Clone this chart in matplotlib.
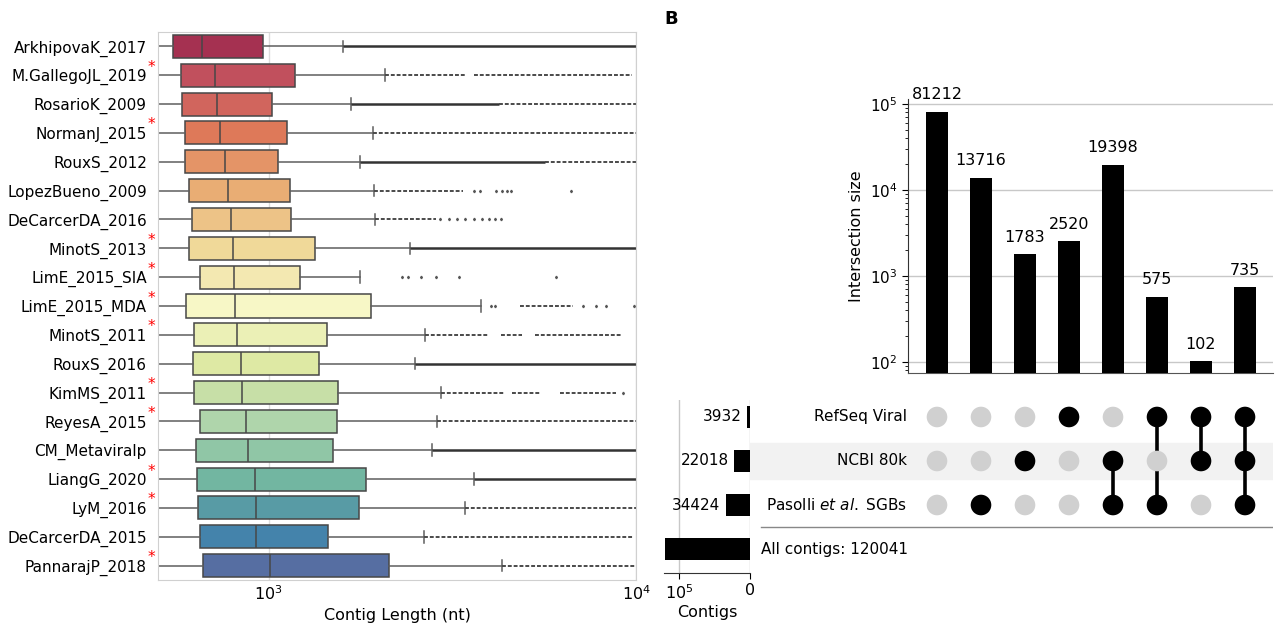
import matplotlib.pyplot as plt
import seaborn as sns
from matplotlib.ticker import NullLocator

W, H = 1281, 623

# ---- panel A: contig length distributions per study ----
studies = [
    "ArkhipovaK_2017", "M.GallegoJL_2019", "RosarioK_2009", "NormanJ_2015",
    "RouxS_2012", "LopezBueno_2009", "DeCarcerDA_2016", "MinotS_2013",
    "LimE_2015_SIA", "LimE_2015_MDA", "MinotS_2011", "RouxS_2016",
    "KimMS_2011", "ReyesA_2015", "CM_Metaviralp", "LiangG_2020",
    "LyM_2016", "DeCarcerDA_2015", "PannarajP_2018",
]
starred = [0, 1, 0, 1, 0, 0, 0, 1, 1, 1, 1, 0, 1, 1, 0, 1, 1, 0, 1]
q1 = [548, 576, 582, 590, 590, 605, 620, 607, 649, 596,
      625, 623, 625, 649, 633, 637, 643, 652, 661]
med = [659, 713, 723, 735, 758, 774, 791, 797, 806, 811,
       820, 838, 845, 867, 877, 919, 921, 921, 1005]
q3 = [966, 1178, 1019, 1123, 1063, 1141, 1147, 1334, 1219, 1897,
      1440, 1369, 1546, 1538, 1494, 1836, 1758, 1451, 2127]
whis_lo = [500] * 19
whis_hi = [1596, 2074, 1674, 1919, 1774, 1935, 1945, 2421, 1774, 3795,
           2656, 2500, 2938, 2877, 2779, 3629, 3423, 2642, 4325]
# runs of outliers: (start, end, "solid" = packed / "dash" = dense but gappy)
flier_runs = [
    [(1596, 10000, "solid")],
    [(2074, 3450, "dash"), (3620, 9750, "dash")],
    [(1674, 4225, "solid"), (4225, 10000, "dash")],
    [(1919, 10000, "dash")],
    [(1774, 5640, "solid"), (5640, 10000, "dash")],
    [(1935, 3390, "dash")],
    [(1945, 2850, "dash")],
    [(2421, 10000, "solid")],
    [],
    [(4840, 6730, "dash")],
    [(2656, 3970, "dash"), (4295, 4900, "dash"), (5300, 9120, "dash")],
    [(2500, 10000, "solid")],
    [(2938, 4410, "dash"), (4600, 5500, "dash"), (6200, 8800, "dash")],
    [(2877, 10000, "dash")],
    [(2779, 10000, "solid")],
    [(3629, 10000, "solid")],
    [(3423, 10000, "dash")],
    [(2642, 9800, "dash")],
    [(4325, 10000, "dash")],
]
flier_points = [
    [], [], [], [], [], [3615, 3760, 4160, 4318, 4468, 4580, 6640],
    [2930, 3087, 3256, 3432, 3615, 3813, 3969, 4128, 4295], [],
    [2310, 2400, 2600, 2857, 3297, 6050], [4020, 4128, 7190, 7780, 8310, 9870],
    [], [], [9200], [], [], [], [], [], [],
]

# ---- panel B: upset plot ----
set_names = ["RefSeq Viral", "NCBI 80k", r"Pasolli $\it{et\ al.}$ SGBs"]
set_totals = [3932, 22018, 34424]
all_contigs = 120041
inter_sizes = [81212, 13716, 1783, 2520, 19398, 575, 102, 735]
membership = [
    [0, 0, 0, 1, 0, 1, 1, 1],  # RefSeq Viral
    [0, 0, 1, 0, 1, 0, 1, 1],  # NCBI 80k
    [0, 1, 0, 0, 1, 1, 0, 1],  # Pasolli et al. SGBs
]


def px_box(x0, y0, x1, y1):
    return [x0 / W, 1 - y1 / H, (x1 - x0) / W, (y1 - y0) / H]


plt.rcParams["font.family"] = ["DejaVu Sans"]
plt.rcParams["font.size"] = 11
fig = plt.figure(figsize=(W / 100, H / 100), dpi=100)

# panel A
ax = fig.add_axes(px_box(158, 32, 636, 580))
n = len(studies)
colors = sns.color_palette("Spectral", n, desat=0.75)
edge = "#474747"
wcol = "#5e5e5e"
stats = [
    dict(label=s, q1=a, med=m, q3=b, whislo=lo, whishi=hi, fliers=[])
    for s, a, m, b, lo, hi in zip(studies, q1, med, q3, whis_lo, whis_hi)
]
bp = ax.bxp(
    stats, positions=range(n), widths=0.8, orientation="horizontal",
    patch_artist=True, showfliers=False,
    boxprops=dict(edgecolor=edge, linewidth=1.1),
    medianprops=dict(color=edge, linewidth=1.1),
    whiskerprops=dict(color=wcol, linewidth=1.1),
    capprops=dict(color=wcol, linewidth=1.1),
)
for patch, c in zip(bp["boxes"], colors):
    patch.set_facecolor(c)

for i in range(n):
    for lo, hi, style in flier_runs[i]:
        if style == "solid":
            ax.plot([lo, hi], [i, i], color="#333333", lw=1.8, solid_capstyle="butt")
        else:
            ax.plot([lo, hi], [i, i], color="#4a4a4a", lw=1.4, ls=(0, (2, 1)))
    pts = flier_points[i]
    ax.plot(pts, [i] * len(pts), ls="none", marker="d", ms=1.3, color="#555555")

ax.set_xscale("log")
ax.set_xlim(499.5, 10000)
ax.set_ylim(n - 0.5, -0.5)
ax.set_yticks(range(n), studies)
ax.set_xticks([1e3, 1e4])
ax.xaxis.set_minor_locator(NullLocator())
ax.xaxis.grid(True, color="#dcdcdc", lw=1)
ax.set_axisbelow(True)
for sp in ax.spines.values():
    sp.set_color("#d0d0d0")
ax.tick_params(axis="y", length=0, pad=8, labelsize=11)
ax.tick_params(axis="x", length=0, pad=3, labelsize=11.5)
ax.set_xlabel("Contig Length (nt)", fontsize=11.5)
for i, s in enumerate(starred):
    if s:
        ax.annotate("*", xy=(0, i), xycoords=ax.get_yaxis_transform(),
                    xytext=(-4.5, 2.5), textcoords="offset points",
                    color="red", fontsize=11, ha="center", va="baseline")

# panel B: intersection sizes
ax_int = fig.add_axes(px_box(908, 99, 1273, 373))
xs = list(range(len(inter_sizes)))
ax_int.bar(xs, inter_sizes, width=0.5, color="black", zorder=3)
ax_int.set_yscale("log")
ax_int.set_ylim(74.5, 114000)
ax_int.set_xlim(-0.66, 7.64)
for x, v in zip(xs, inter_sizes):
    ax_int.annotate(f"{v}", (x, v), xytext=(0, 7), textcoords="offset points",
                    ha="center", va="bottom", fontsize=11.5)
ax_int.yaxis.grid(True, which="major", color="#c8c8c8", lw=1)
ax_int.set_axisbelow(True)
ax_int.set_xticks([])
ax_int.spines[["top", "right"]].set_visible(False)
ax_int.spines["left"].set_color("#333333")
ax_int.spines["bottom"].set_color("#555555")
ax_int.tick_params(axis="y", which="major", length=4, labelsize=11)
ax_int.tick_params(axis="y", which="minor", length=2)
ax_int.set_ylabel("Intersection size", fontsize=11.5)

# panel B: matrix
ax_mat = fig.add_axes(px_box(722, 400, 1273, 573))
ax_mat.set_xlim(-4.886, 7.636)
ax_mat.set_ylim(3.545, -0.386)
ax_mat.axis("off")
ax_mat.axhspan(0.6, 1.4, color="#f2f2f2", zorder=0)
for j in xs:
    col = [membership[k][j] for k in range(3)]
    active = [k for k in range(3) if col[k]]
    ax_mat.scatter([j] * 3, range(3), s=220, linewidths=0,
                   c=["black" if m else "#d0d0d0" for m in col], zorder=2)
    if len(active) > 1:
        ax_mat.plot([j, j], [min(active), max(active)], color="black", lw=2.6, zorder=1)
for k, name in enumerate(set_names):
    ax_mat.text(-0.68, k, name, ha="right", va="center", fontsize=11)
ax_mat.plot([-4.0, 7.636], [2.5, 2.5], color="#888888", lw=1)
ax_mat.text(-4.0, 3, f"All contigs: {all_contigs}", ha="left", va="center", fontsize=11)

# panel B: set totals
ax_tot = fig.add_axes(px_box(664, 400, 750, 573))
ax_tot.barh(range(4), set_totals + [all_contigs], height=0.5, color="black", zorder=3)
ax_tot.set_xlim(121200, 0)
ax_tot.set_ylim(3.545, -0.386)
for k, v in enumerate(set_totals):
    ax_tot.annotate(f"{v}", (v, k), xytext=(-4, 0), textcoords="offset points",
                    ha="right", va="center", fontsize=11)
ax_tot.set_xticks([1e5, 0], ["$10^5$", "0"])
ax_tot.xaxis.grid(True, color="#c8c8c8", lw=1)
ax_tot.set_axisbelow(True)
ax_tot.set_yticks([])
ax_tot.spines[["top", "right", "left"]].set_visible(False)
ax_tot.spines["bottom"].set_color("#333333")
ax_tot.tick_params(axis="x", length=4, labelsize=11.5)
ax_tot.set_xlabel("Contigs", fontsize=11.5, labelpad=2)

fig.text(664 / W, 1 - 19 / H, "B", fontweight="bold", fontsize=13, va="center")

fig.savefig("out.png", dpi=100)
